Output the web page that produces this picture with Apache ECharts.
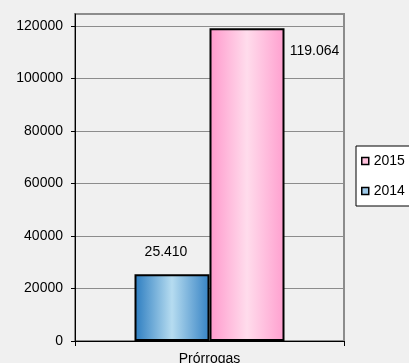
<!DOCTYPE html>
<html><head><meta charset="utf-8">
<script src="https://cdn.jsdelivr.net/npm/echarts@6/dist/echarts.min.js"></script>
<style>html,body{margin:0;padding:0;background:#f0f0f0}#c{width:409px;height:363px}</style>
</head><body><div id="c"></div>
<script>
const categories = ['Prórrogas'];
const values2014 = [25410];
const values2015 = [119064];
const labels2014 = ['25.410'];
const labels2015 = ['119.064'];
const legendOrder = ['2015', '2014'];

const chart = echarts.init(document.getElementById('c'));
const grad = (edge, mid, edge2) => new echarts.graphic.LinearGradient(0, 0, 1, 0, [
  {offset: 0, color: edge}, {offset: 0.5, color: mid}, {offset: 1, color: edge2}
]);
const font = 'Liberation Sans, Arial, sans-serif';
const fs = 14;
chart.setOption({
  backgroundColor: '#f0f0f0',
  animation: false,
  grid: {left: 75, right: 65, top: 14, bottom: 22, show: true, borderColor: '#8c8c8c', borderWidth: 2,
    backgroundColor: 'transparent', containLabel: false, outerBoundsMode: 'none'},
  legend: {
    orient: 'vertical', left: 356, top: 146,
    padding: [8, 20, 8, 5], itemGap: 16,
    itemWidth: 7, itemHeight: 7, icon: 'rect',
    backgroundColor: '#ffffff', borderColor: '#000000', borderWidth: 1,
    textStyle: {fontFamily: font, fontSize: fs, color: '#000'},
    data: [
      {name: legendOrder[0], itemStyle: {color: '#ffc0dc', borderColor: '#000', borderWidth: 1.5}},
      {name: legendOrder[1], itemStyle: {color: '#9cc8e8', borderColor: '#000', borderWidth: 1.5}}
    ]
  },
  xAxis: {
    type: 'category', data: categories,
    axisLine: {lineStyle: {color: '#000', width: 1}},
    axisTick: {show: true, length: 5, lineStyle: {color: '#000'}},
    axisLabel: {fontFamily: font, fontSize: fs, color: '#000', margin: 11}
  },
  yAxis: {
    type: 'value', min: 0, max: 124500, interval: 20000,
    axisLine: {show: true, lineStyle: {color: '#000', width: 1}},
    axisTick: {show: true, length: 4, lineStyle: {color: '#000'}},
    axisLabel: {fontFamily: font, fontSize: fs, color: '#000', margin: 12, showMaxLabel: false,
      formatter: v => String(v)},
    splitLine: {lineStyle: {color: '#8c8c8c', width: 1}}
  },
  series: [
    {
      name: '2014', type: 'bar', data: values2014, barWidth: 75, barGap: '0%',
      itemStyle: {color: grad('#2b7cc0', '#b6dcf0', '#3582c4'), borderColor: '#000', borderWidth: 2},
      label: {show: true, position: 'top', distance: 15, offset: [-6, 0], fontFamily: font, fontSize: fs, color: '#000',
        formatter: p => labels2014[p.dataIndex]}
    },
    {
      name: '2015', type: 'bar', data: values2015, barWidth: 75,
      itemStyle: {color: grad('#ff99cc', '#ffdcec', '#ff9fcf'), borderColor: '#000', borderWidth: 2},
      label: {show: true, position: ['107%', 16], align: 'left', verticalAlign: 'top', fontFamily: font, fontSize: fs, color: '#000',
        formatter: p => labels2015[p.dataIndex]}
    }
  ]
});
</script></body></html>
